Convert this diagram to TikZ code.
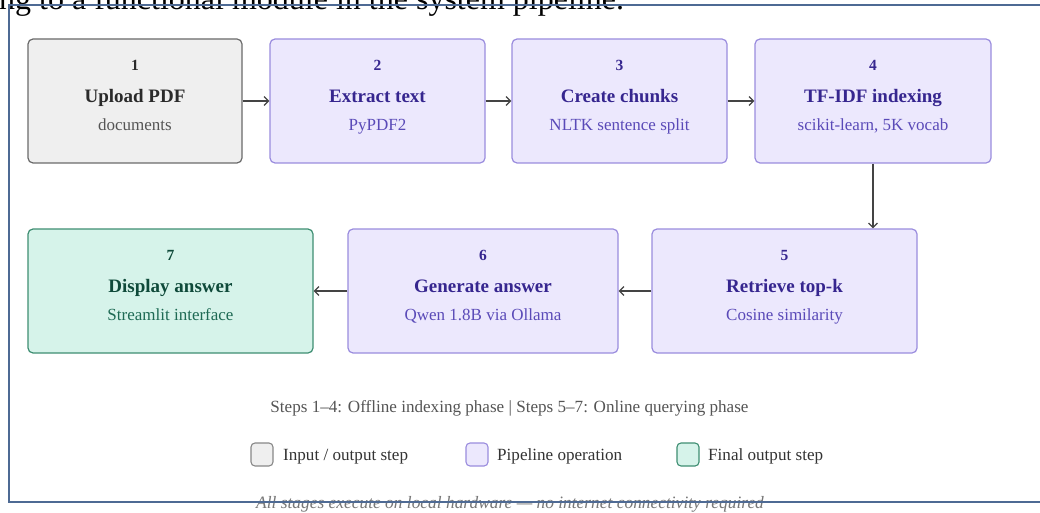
\documentclass[tikz,border=0pt]{standalone}
\usepackage{fontspec}
\setmainfont{Liberation Serif}
\usetikzlibrary{arrows.meta}
\definecolor{gfill}{HTML}{EFEFEF}
\definecolor{gline}{HTML}{6A6A6A}
\definecolor{gtitle}{HTML}{2A2A2A}
\definecolor{gsub}{HTML}{555555}
\definecolor{pfill}{HTML}{ECE8FD}
\definecolor{pline}{HTML}{9A8CDE}
\definecolor{ptitle}{HTML}{36268F}
\definecolor{psub}{HTML}{5A4AB8}
\definecolor{tfill}{HTML}{D6F3EA}
\definecolor{tline}{HTML}{3E8E72}
\definecolor{ttitle}{HTML}{0F4A3A}
\definecolor{tsub}{HTML}{1E6A54}
\definecolor{arrc}{HTML}{444444}
\definecolor{capc}{HTML}{555555}
\definecolor{legc}{HTML}{333333}
\definecolor{notec}{HTML}{777777}
\definecolor{framec}{HTML}{4E6A94}
\begin{document}
\begin{tikzpicture}[x=1pt,y=-1pt,
  boxbase/.style={rectangle, rounded corners=5pt, line width=1.2pt, inner sep=0pt, minimum height=124pt},
  gbox/.style={boxbase, draw=gline, fill=gfill},
  pbox/.style={boxbase, draw=pline, fill=pfill},
  tbox/.style={boxbase, draw=tline, fill=tfill},
  numtxt/.style={anchor=base, inner sep=0pt, font=\fontsize{15.5}{18}\selectfont\bfseries},
  titletxt/.style={anchor=base, inner sep=0pt, font=\fontsize{19}{22}\selectfont\bfseries},
  subtxt/.style={anchor=base, inner sep=0pt, font=\fontsize{17}{20}\selectfont},
  arr/.style={draw=arrc, line width=1.2pt, -{Straight Barb[length=4.5pt,width=9pt,line width=1.2pt]}},
  swbase/.style={rectangle, rounded corners=4pt, line width=1.1pt, minimum width=22pt, minimum height=23pt, inner sep=0pt},
  legtxt/.style={anchor=base west, inner sep=0pt, text=legc, font=\fontsize{17.1}{20}\selectfont}
]
\clip (0,0) rectangle (1040,513);
\fill[white] (0,0) rectangle (1040,513);

% cut-off heading text
\node[anchor=base west, inner sep=0pt, font=\fontsize{32}{36}\selectfont] (head) at (-1,10) {ng to a functional module in the system pipeline.};

% row 1
\node[gbox, minimum width=214pt] (b1) at (135,101) {};
\node[pbox, minimum width=215pt] (b2) at (377.5,101) {};
\node[pbox, minimum width=215pt] (b3) at (619.5,101) {};
\node[pbox, minimum width=236pt] (b4) at (873,101) {};
% row 2
\node[pbox, minimum width=265pt] (b5) at (784.5,291) {};
\node[pbox, minimum width=270pt] (b6) at (483,291) {};
\node[tbox, minimum width=285pt] (b7) at (170.5,291) {};

% texts row 1
\node[numtxt, text=gtitle] (n1) at (135,70.5) {1};
\node[titletxt, text=gtitle] (t1) at (135,102.5) {Upload PDF};
\node[subtxt, text=gsub] (s1) at (135,130.5) {documents};

\node[numtxt, text=ptitle] (n2) at (377.5,70.5) {2};
\node[titletxt, text=ptitle] (t2) at (377.5,102.5) {Extract text};
\node[subtxt, text=psub] (s2) at (377.5,130.5) {PyPDF2};

\node[numtxt, text=ptitle] (n3) at (619.5,70.5) {3};
\node[titletxt, text=ptitle] (t3) at (619.5,102.5) {Create chunks};
\node[subtxt, text=psub] (s3) at (619.5,130.5) {NLTK sentence split};

\node[numtxt, text=ptitle] (n4) at (873,70.5) {4};
\node[titletxt, text=ptitle] (t4) at (873,102.5) {TF-IDF indexing};
\node[subtxt, text=psub] (s4) at (873,130.5) {scikit-learn, 5K vocab};

% texts row 2
\node[numtxt, text=ptitle] (n5) at (784.5,260.5) {5};
\node[titletxt, text=ptitle] (t5) at (784.5,292.5) {Retrieve top-k};
\node[subtxt, text=psub] (s5) at (784.5,320.5) {Cosine similarity};

\node[numtxt, text=ptitle] (n6) at (483,260.5) {6};
\node[titletxt, text=ptitle] (t6) at (483,292.5) {Generate answer};
\node[subtxt, text=psub] (s6) at (483,320.5) {Qwen 1.8B via Ollama};

\node[numtxt, text=ttitle] (n7) at (170.5,260.5) {7};
\node[titletxt, text=ttitle] (t7) at (170.5,292.5) {Display answer};
\node[subtxt, text=tsub] (s7) at (170.5,320.5) {Streamlit interface};

% connectors
\draw[arr] (b1.east) -- (b2.west);
\draw[arr] (b2.east) -- (b3.west);
\draw[arr] (b3.east) -- (b4.west);
\draw[arr] (b4.south) -- (b4.south |- b5.north);
\draw[arr] (b5.west) -- (b6.east);
\draw[arr] (b6.west) -- (b7.east);

% caption
\node[anchor=base, inner sep=0pt, text=capc, font=\fontsize{17.1}{20}\selectfont] (cap) at (509.5,412.5) {Steps 1--4: Offline indexing phase | Steps 5--7: Online querying phase};

% legend
\node[swbase, draw=gline!80, fill=gfill] (l1) at (262,454.5) {};
\node[legtxt] (l1t) at (283,460.5) {Input / output step};
\node[swbase, draw=pline, fill=pfill] (l2) at (477,454.5) {};
\node[legtxt] (l2t) at (497,460.5) {Pipeline operation};
\node[swbase, draw=tline, fill=tfill] (l3) at (688,454.5) {};
\node[legtxt] (l3t) at (708,460.5) {Final output step};

% note
\node[anchor=base, inner sep=0pt, text=notec, font=\fontsize{17.4}{20}\selectfont\itshape] (note) at (510,508.5) {All stages execute on local hardware --- no internet connectivity required};

% outer frame (cut off on the right)
\draw[framec, line width=1.3pt] (1050,5) -| (9,502) -- (1050,502);
\end{tikzpicture}
\end{document}
